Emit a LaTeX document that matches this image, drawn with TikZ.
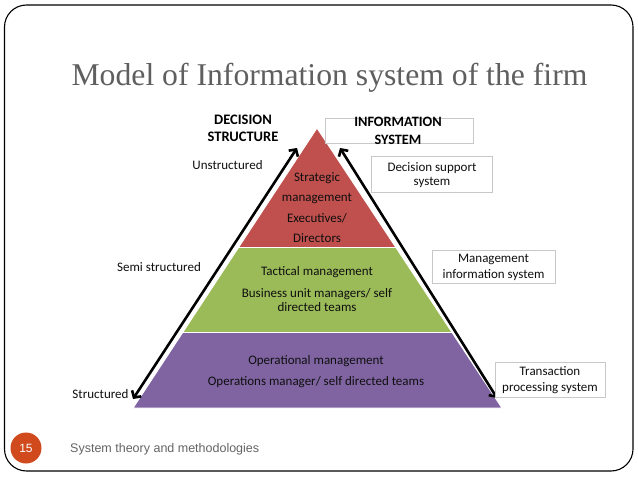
\documentclass[tikz,border=0pt]{standalone}
\usepackage{fontspec}
\setmainfont{Carlito}
\newfontfamily\titlefont{Liberation Serif}
\newfontfamily\footfont{Liberation Sans}
\usetikzlibrary{arrows.meta,calc}
\definecolor{pyrred}{RGB}{192,80,77}
\definecolor{pyrgreen}{RGB}{155,187,89}
\definecolor{pyrpurple}{RGB}{128,100,162}
\definecolor{titlegray}{RGB}{95,95,95}
\definecolor{footgray}{RGB}{100,100,100}
\definecolor{numorange}{RGB}{208,74,30}
\definecolor{boxgray}{RGB}{200,200,200}
\definecolor{txt}{RGB}{15,15,15}
\tikzset{
  lbl/.style={font=\fontsize{13}{14}\selectfont, text=txt, inner sep=0pt, align=center},
  hdr/.style={font=\bfseries\fontsize{14.5}{17}\selectfont, text=black, inner sep=0pt, align=center},
  isbox/.style={draw=boxgray, line width=0.8pt, fill=white, inner sep=0pt},
  band/.style={draw=white, line width=1pt},
  bigarrow/.style={line width=2.6pt, black, {Straight Barb[length=5pt,width=11pt]}-{Straight Barb[length=5pt,width=11pt]}}
}
\begin{document}
\begin{tikzpicture}[x=1pt,y=-1pt]
\useasboundingbox (0,0) rectangle (638,479);
\fill[white] (0,0) rectangle (638,479);
% slide frame
\draw[line width=1.1pt, rounded corners=22pt] (4.5,5) rectangle (633,471);
% title
\node[font=\titlefont\fontsize{31.7}{34}\selectfont, text=titlegray, anchor=base, inner sep=0pt] (title) at (329.5,85) {Model of Information system of the firm};
% pyramid coordinates
\coordinate (A) at (317,128);
\coordinate (BL) at (133,408);
\coordinate (BR) at (502,408);
\coordinate (rl) at ($(A)!0.425!(BL)$);
\coordinate (rr) at ($(A)!0.425!(BR)$);
\coordinate (gl) at ($(A)!0.7286!(BL)$);
\coordinate (gr) at ($(A)!0.7286!(BR)$);
\fill[pyrpurple] (gl) -- (gr) -- (BR) -- (BL) -- cycle;
\fill[pyrgreen] (rl) -- (rr) -- (gr) -- (gl) -- cycle;
\fill[pyrred] (A) -- (rr) -- (rl) -- cycle;
\draw[band] (A) -- (BR) -- (BL) -- cycle;
\draw[band] (rl) -- (rr);
\draw[band] (gl) -- (gr);
% pyramid texts
\node[lbl, font=\fontsize{13}{20.3}\selectfont] (strat) at (317,207.5) {Strategic\\management\\Executives/\\Directors};
\node[lbl] (tact) at (317,272) {Tactical management};
\node[lbl, font=\fontsize{13}{14.5}\selectfont] (bum) at (317,300) {Business unit managers/ self\\directed teams};
\node[lbl, font=\fontsize{13}{21}\selectfont] (oper) at (316,371.5) {Operational management\\Operations manager/ self directed teams};
% arrows
\coordinate (la1) at (133,399);
\coordinate (la2) at (297,148);
\coordinate (ra1) at (340,148);
\coordinate (ra2) at (497,398);
\draw[bigarrow] (la1) -- (la2);
\draw[bigarrow] (ra1) -- (ra2);
% headers
\node[hdr] (decision) at (243,128.5) {DECISION\\STRUCTURE};
\node[isbox, minimum width=148pt, minimum height=25pt] (isframe) at (399,130.5) {};
\node[hdr, font=\bfseries\fontsize{14.3}{18}\selectfont] (infosys) at (398,130.5) {INFORMATION\\SYSTEM};
% left labels
\node[lbl] (unstr) at (227.5,165) {Unstructured};
\node[lbl] (semi) at (159,267) {Semi structured};
\node[lbl] (str) at (100.5,394) {Structured};
% right boxes
\node[isbox, minimum width=121pt, minimum height=36pt] (dssbox) at (432,174) {};
\node[lbl, font=\fontsize{13}{14.5}\selectfont] (dss) at (432,175) {Decision support\\system};
\node[isbox, minimum width=123pt, minimum height=33pt] (misbox) at (493.5,266.5) {};
\node[lbl, font=\fontsize{13}{16}\selectfont] (mis) at (493.5,267) {Management\\information system};
\node[isbox, minimum width=110pt, minimum height=35pt] (tpsbox) at (550,379.5) {};
\node[lbl, font=\fontsize{13}{16}\selectfont] (tps) at (550,380) {Transaction\\processing system};
% footer
\node[circle, fill=numorange, minimum size=31pt, inner sep=0pt] (num) at (26,448) {};
\node[font=\footfont\fontsize{12}{14}\selectfont, text=white, inner sep=0pt] (numtxt) at (26,448) {15};
\node[font=\footfont\fontsize{12.5}{14}\selectfont, text=footgray, anchor=base west, inner sep=0pt] (foot) at (70,452) {System theory and methodologies};
\end{tikzpicture}
\end{document}
